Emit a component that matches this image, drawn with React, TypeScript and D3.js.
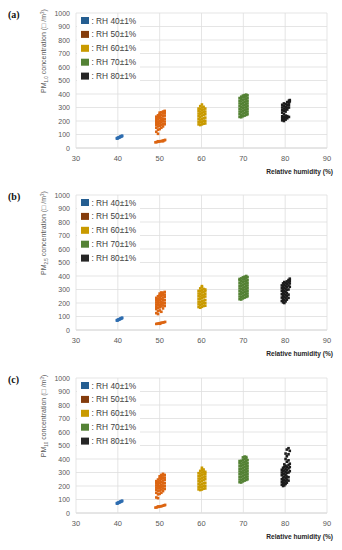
import * as d3 from "d3";

// hand-read clusters: each entry is [x, y values at that x]
type Col = [number, number[]];

const rhLabels = [": RH 40\u00b11%", ": RH 50\u00b11%", ": RH 60\u00b11%", ": RH 70\u00b11%", ": RH 80\u00b11%"];
const legendColors = ["#255E91", "#843C0C", "#C99A00", "#548235", "#262626"];
const pointColors = ["#2E6DB0", "#DC6512", "#C99A00", "#548235", "#1c1c1c"];
const xTicks = [30, 40, 50, 60, 70, 80, 90];
const yTicks = [0, 100, 200, 300, 400, 500, 600, 700, 800, 900, 1000];
const panelLabels = ["(a)", "(b)", "(c)"];
const pmSubs = ["1.0", "2.5", "10"];

const rh40: Col[] = [
  [39.8, [70, 73]], [40.0, [72, 75]], [40.2, [76, 78]], [40.4, [79, 81]],
  [40.6, [82, 84]], [40.8, [85, 87]], [41.0, [88, 91]],
];

// panel (a) PM1.0
const pm1Rh50: Col[] = [
  [49.2, [120, 150, 170, 185, 200, 215, 232]], [49.6, [105, 135, 160, 180, 195, 212, 228, 242]],
  [50.0, [140, 165, 182, 200, 220, 236, 250, 262]], [50.4, [150, 172, 190, 206, 225, 246, 264]],
  [50.8, [160, 180, 200, 216, 236, 256, 270]], [51.2, [176, 196, 216, 240, 258, 275]],
  [49.0, [42]], [49.3, [44]], [49.6, [46, 50]], [49.9, [48]], [50.2, [50]], [50.5, [52]],
  [50.8, [55, 50]], [51.1, [57]], [51.3, [60]],
];
const pm1Rh60: Col[] = [
  [59.3, [175, 195, 215, 235, 255, 275, 292]], [59.7, [170, 190, 210, 230, 250, 270, 290, 310]],
  [60.1, [175, 195, 215, 240, 260, 280, 300, 322]], [60.5, [180, 200, 220, 245, 265, 285, 305]],
  [60.9, [182, 202, 225, 250, 270, 292]],
];
const pm1Rh70: Col[] = [
  [69.1, [230, 250, 270, 290, 310, 330, 350, 370]], [69.5, [228, 245, 265, 285, 305, 325, 345, 365, 380]],
  [69.9, [235, 255, 275, 295, 315, 335, 355, 375, 388]], [70.3, [240, 260, 280, 300, 320, 340, 360, 380, 392]],
  [70.7, [245, 265, 285, 305, 325, 345, 365, 385, 395]], [71.0, [250, 270, 290, 310, 330, 350, 370, 390]],
];
const pm1Rh80: Col[] = [
  [79.3, [205, 220, 235, 262, 280, 300, 320]], [79.7, [200, 215, 230, 250, 275, 292, 310, 330]],
  [80.1, [210, 225, 240, 270, 286, 305, 325]], [80.5, [220, 236, 285, 300, 320, 340]],
  [80.9, [230, 300, 320, 336, 350]], [81.1, [345, 355]],
];

// panel (b) PM2.5
const pm25Rh50: Col[] = [
  [49.2, [125, 155, 172, 188, 204, 220, 238]], [49.6, [118, 140, 165, 184, 200, 216, 232, 250]],
  [50.0, [145, 168, 186, 204, 224, 240, 256, 270]], [50.4, [135, 175, 194, 210, 230, 250, 268, 278]],
  [50.8, [160, 182, 202, 220, 240, 260, 276]], [51.2, [178, 198, 220, 244, 262, 282]],
  [49.2, [45]], [49.5, [47]], [49.8, [49]], [50.1, [51, 46]], [50.4, [53]], [50.7, [55]],
  [51.0, [57]], [51.3, [60]],
];
const pm25Rh60: Col[] = [
  [59.3, [170, 190, 210, 230, 250, 270, 290]], [59.7, [165, 185, 205, 228, 248, 268, 288, 308]],
  [60.1, [172, 192, 212, 236, 256, 278, 298, 318, 325]], [60.5, [178, 198, 218, 242, 262, 284, 304]],
  [60.9, [180, 200, 222, 248, 268, 288, 300]],
];
const pm25Rh70: Col[] = [
  [69.1, [228, 248, 268, 288, 308, 328, 348, 368, 378]], [69.5, [226, 244, 264, 284, 304, 324, 344, 364, 382]],
  [69.9, [234, 254, 274, 294, 314, 334, 354, 374, 390]], [70.3, [240, 260, 280, 300, 320, 340, 360, 380, 395]],
  [70.7, [245, 265, 285, 305, 325, 345, 365, 385, 400]], [71.0, [250, 270, 290, 310, 330, 350, 370, 392]],
];
const pm25Rh80: Col[] = [
  [79.2, [215, 240, 265, 290, 310, 330]], [79.5, [205, 228, 252, 276, 300, 322, 345]],
  [79.8, [200, 222, 246, 268, 288, 312, 335, 355]], [80.1, [212, 236, 258, 282, 304, 326, 348]],
  [80.4, [225, 250, 272, 296, 318, 340, 360]], [80.8, [238, 262, 300, 330, 352, 370]],
  [81.1, [320, 345, 365, 380]],
];

// panel (c) PM10
const pm10Rh50: Col[] = [
  [49.2, [115, 150, 172, 188, 204, 220, 236]], [49.6, [110, 138, 162, 182, 198, 214, 230, 248]],
  [50.0, [142, 166, 184, 202, 222, 240, 258, 272]], [50.4, [150, 174, 192, 210, 230, 250, 268, 282]],
  [50.8, [162, 182, 202, 220, 240, 260, 278, 290]], [51.2, [178, 198, 220, 244, 262, 282]],
  [49.0, [40]], [49.3, [42]], [49.6, [45, 48]], [49.9, [47]], [50.2, [49]], [50.5, [51]],
  [50.8, [54]], [51.1, [57]], [51.3, [60]],
];
const pm10Rh60: Col[] = [
  [59.3, [175, 195, 215, 235, 255, 275, 295]], [59.7, [170, 190, 210, 232, 252, 272, 292, 312]],
  [60.1, [174, 194, 214, 238, 258, 280, 300, 320, 335]], [60.5, [180, 200, 220, 244, 264, 286, 306, 322]],
  [60.9, [182, 202, 224, 250, 270, 290, 305]],
];
const pm10Rh70: Col[] = [
  [69.1, [228, 248, 268, 288, 308, 328, 348, 368, 385]], [69.5, [226, 246, 266, 286, 306, 326, 346, 366, 386]],
  [69.9, [234, 254, 274, 294, 314, 334, 354, 374, 394, 412]], [70.3, [240, 260, 280, 300, 320, 340, 360, 380, 400, 418]],
  [70.7, [245, 265, 285, 305, 325, 345, 365, 385, 405, 415]], [71.0, [250, 270, 290, 310, 330, 350, 370, 392]],
];
const pm10Rh80: Col[] = [
  [79.2, [210, 230, 250, 280, 300, 320]], [79.5, [200, 220, 240, 262, 290, 312, 335]],
  [79.8, [205, 225, 245, 270, 292, 315, 340, 360]], [80.1, [215, 235, 258, 280, 304, 328, 350, 400, 440]],
  [80.4, [225, 248, 270, 296, 318, 342, 380, 420, 470]], [80.8, [240, 265, 300, 330, 355, 390, 435, 480]],
  [81.1, [310, 340, 365, 460]],
];

const panels = [
  [rh40, pm1Rh50, pm1Rh60, pm1Rh70, pm1Rh80],
  [rh40, pm25Rh50, pm25Rh60, pm25Rh70, pm25Rh80],
  [rh40, pm10Rh50, pm10Rh60, pm10Rh70, pm10Rh80],
];
const panelTops = [13, 195, 378];

const font = "'Liberation Sans', Arial, sans-serif";
const W = 342;
const H = 550;
const plotLeft = 76;
const plotRight = 327;
const plotH = 135;

function Panel({ idx }: { idx: number }) {
  const top = panelTops[idx];
  const x = d3.scaleLinear().domain([30, 90]).range([plotLeft, plotRight]);
  const y = d3.scaleLinear().domain([0, 1000]).range([top + plotH, top]);
  const series = panels[idx];
  const legendY = (i: number) => top + 7.5 + i * 13.9;

  return (
    <g>
      <text x={8} y={top + 5} fontFamily="'Liberation Serif', serif" fontWeight="bold" fontSize={10} fill="#111">
        {panelLabels[idx]}
      </text>
      {yTicks.map((t) => (
        <line key={"h" + t} x1={plotLeft} x2={plotRight} y1={y(t)} y2={y(t)} stroke={t === 0 ? "#bfbfbf" : "#dedede"} strokeWidth={0.8} />
      ))}
      <rect x={plotLeft + 1} y={top + 1.5} width={63} height={72} fill="#fff" />
      {xTicks.map((t) => (
        <line key={"v" + t} x1={x(t)} x2={x(t)} y1={top} y2={y(0)} stroke="#dedede" strokeWidth={0.8} />
      ))}
      {yTicks.map((t) => (
        <text key={"yl" + t} x={plotLeft - 6} y={y(t) + 2.5} textAnchor="end" fontFamily={font} fontSize={7} fill="#595959">
          {t}
        </text>
      ))}
      {xTicks.map((t) => (
        <text key={"xl" + t} x={x(t)} y={y(0) + 13} textAnchor="middle" fontFamily={font} fontSize={7.5} fill="#595959">
          {t}
        </text>
      ))}
      <text x={333} y={y(0) + 26} textAnchor="end" fontFamily={font} fontWeight="bold" fontSize={6.6} fill="#262626">
        Relative humidity (%)
      </text>
      <text
        transform={`translate(46, ${top + 38}) rotate(-90)`}
        textAnchor="middle"
        fontFamily={font}
        fontSize={7}
        fill="#595959"
      >
        PM
        <tspan fontSize={4.5} dy={1.5}>{pmSubs[idx]}</tspan>
        <tspan dy={-1.5}>{" concentration (\u25A1 /m"}</tspan>
        <tspan fontSize={4.5} dy={-2.5}>3</tspan>
        <tspan dy={2.5}>)</tspan>
      </text>
      {series.map((cols, si) => (
        <g key={"s" + si} fill={pointColors[si]}>
          {cols.flatMap(([cx, ys], ci) =>
            ys.map((v, vi) => (
              <rect key={ci + "-" + vi} x={x(cx) - 1.3} y={y(v) - 1.3} width={2.6} height={2.6} />
            ))
          )}
        </g>
      ))}
      {rhLabels.map((lab, i) => (
        <g key={"lg" + i}>
          <rect x={81} y={legendY(i) - 3.5} width={8} height={7} fill={legendColors[i]} />
          <text x={91.5} y={legendY(i) + 3} fontFamily={font} fontSize={8.3} fill="#404040">
            {lab}
          </text>
        </g>
      ))}
    </g>
  );
}

export default function App() {
  return (
    <div style={{ position: "absolute", left: 0, top: 0 }}>
      <svg width={W} height={H} style={{ display: "block", background: "#fff" }}>
        {[0, 1, 2].map((i) => (
          <Panel key={i} idx={i} />
        ))}
      </svg>
    </div>
  );
}
